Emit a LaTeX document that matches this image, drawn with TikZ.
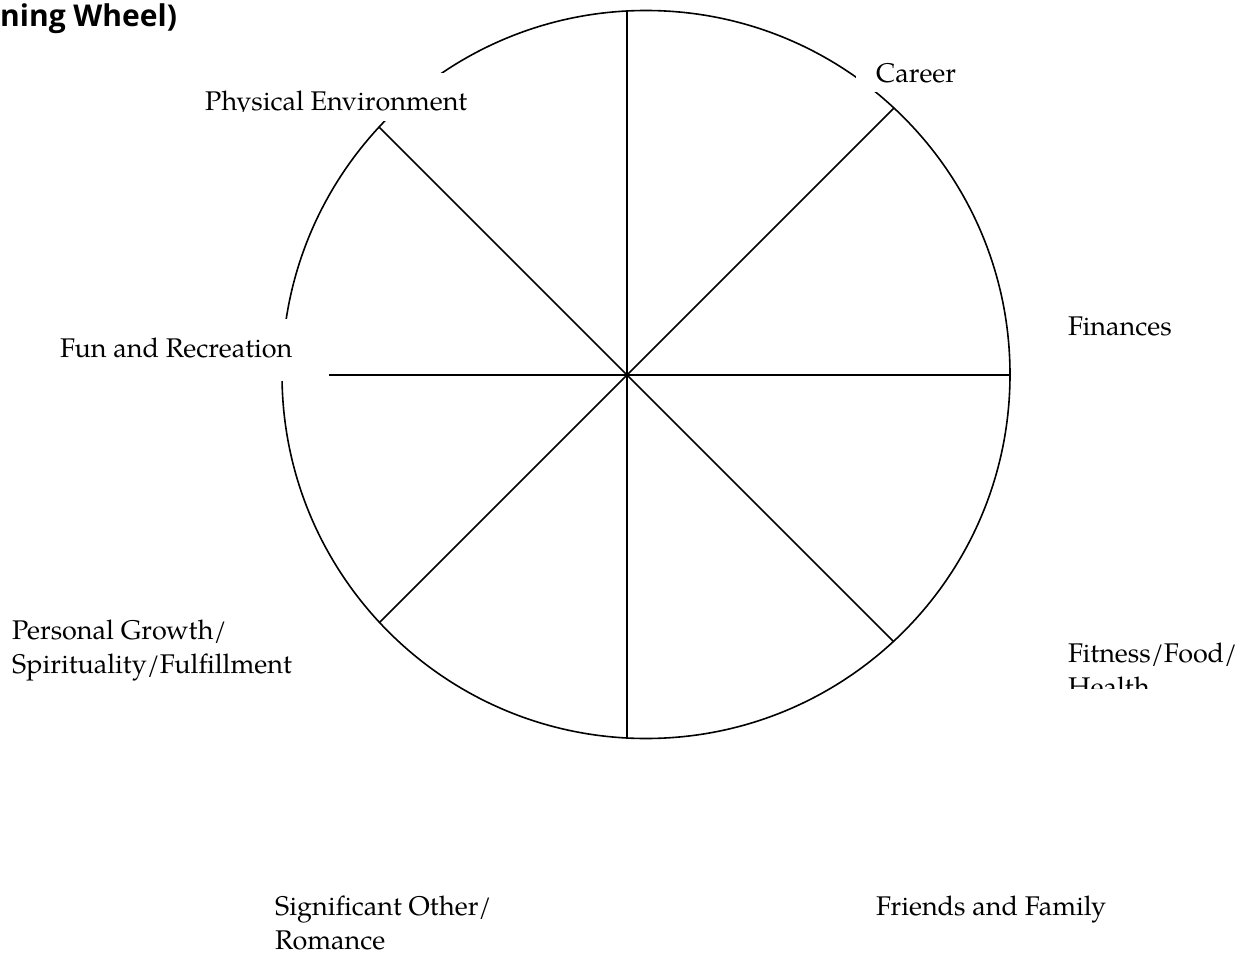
\documentclass[tikz,border=0pt]{standalone}
\usepackage{fontspec}
\setmainfont{TeX Gyre Pagella}
\newfontfamily\titlefont{Open Sans}
\tikzset{
  wheel/.style={line width=1.6pt, black},
  lbl/.style={anchor=base west, inner sep=0pt, font=\fontsize{27}{34}\selectfont, align=left},
  cover/.style={fill=white, draw=none},
}
\begin{document}
\begin{tikzpicture}[x=1pt,y=-1pt]
\useasboundingbox (0,0) rectangle (1245,955);
% centres
\coordinate (c) at (646,374.5);
\coordinate (o) at (627,375);
% spoke ends
\coordinate (n) at (627,10.5);
\coordinate (s) at (627,738);
\coordinate (e) at (1010,375);
\coordinate (w) at (282,375);
\coordinate (ne) at (894,108);
\coordinate (nw) at (379,127);
\coordinate (se) at (893.5,641.5);
\coordinate (sw) at (379.5,622.5);
\draw[wheel] (c) circle (364);
\foreach \p in {n,s,e,w,ne,nw,se,sw} \draw[wheel] (o) -- (\p);
% white label boxes covering the wheel
\fill[cover] (195,73) rectangle (470,121);
\fill[cover] (856,50) rectangle (965,92);
\fill[cover] (50,319) rectangle (329,381);
% title
\node[anchor=base west, inner sep=0pt, font=\titlefont\bfseries\fontsize{30}{34}\selectfont] (title) at (0,27) {ning Wheel)};
% labels
\begin{scope}
\clip (190,60) rectangle (480,112);
\node[lbl] (pe) at (205,111) {Physical Environment};
\end{scope}
\node[lbl] (career) at (876,83) {Career};
\node[lbl] (fin) at (1068,335) {Finances};
\node[lbl] (fun) at (60,357) {Fun and Recreation};
\node[lbl] (pg) at (12,673) {Personal Growth/\\Spirituality/Fulfillment};
\begin{scope}
\clip (1060,620) rectangle (1245,688);
\node[lbl] (fit) at (1068,696) {Fitness/Food/\\Health};
\end{scope}
\node[lbl] (so) at (275,949) {Significant Other/\\Romance};
\node[lbl] (ff) at (876,915) {Friends and Family};
\end{tikzpicture}
\end{document}
